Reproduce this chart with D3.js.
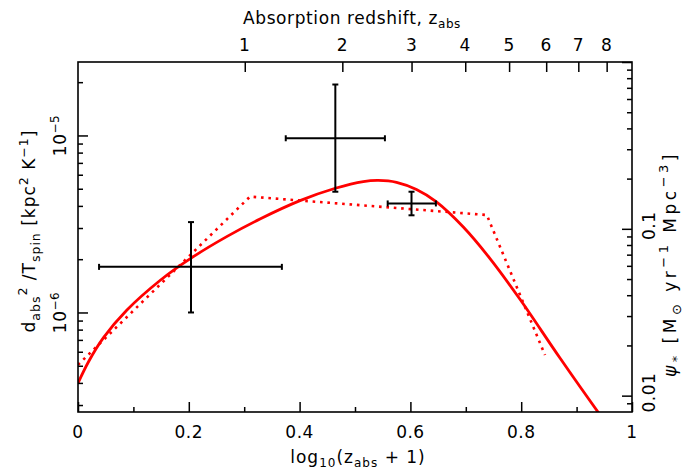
<!DOCTYPE html>
<html><head><meta charset="utf-8">
<script src="https://cdn.jsdelivr.net/npm/d3@7"></script>
<style>
body{margin:0;background:#fff}
text{font-family:"DejaVu Sans",sans-serif;font-size:17px;fill:#000}
</style>
</head><body>
<svg id="chart" width="687" height="473"></svg>
<script>
// ---------- data ----------
const xTickValues = [0, 0.2, 0.4, 0.6, 0.8, 1];
const xTickLabels = ["0", "0.2", "0.4", "0.6", "0.8", "1"];
const xMinorTicks = [0.1, 0.3, 0.5, 0.7, 0.9];
const topZTicks = [1, 2, 3, 4, 5, 6, 7, 8];
const leftMajorTicks = [1e-6, 1e-5];
const leftMajorExp = ["−6", "−5"];
const leftMinorTicks = [3e-7,4e-7,5e-7,6e-7,7e-7,8e-7,9e-7,2e-6,3e-6,4e-6,5e-6,6e-6,7e-6,8e-6,9e-6,2e-5];
const rightMajorTicks = [0.01, 0.1, 1];
const rightMajorLabels = ["0.01", "0.1", ""];
const rightMinorTicks = [0.009,0.02,0.03,0.04,0.05,0.06,0.07,0.08,0.09,0.2,0.3,0.4,0.5,0.6,0.7,0.8,0.9];
const leftDomain = [2.74e-7, 2.60e-5];
const rightDomain = [0.00798, 1.0];

// measurements (log10(1+z), d^2/T)
const measX   = [0.204, 0.4645, 0.602];
const measXlo = [0.038, 0.375, 0.559];
const measXhi = [0.368, 0.554, 0.646];
const measY   = [1.81e-6, 9.64e-6, 4.13e-6];
const measYlo = [1.00e-6, 4.81e-6, 3.54e-6];
const measYhi = [3.24e-6, 1.94e-5, 4.81e-6];

// star-formation density curves (log10(1+z), psi*)
const solidX   = [0, 0.02, 0.0457, 0.0879, 0.148, 0.2034, 0.2684, 0.3285, 0.4007, 0.4644, 0.515, 0.542, 0.575, 0.611, 0.647, 0.6955, 0.7437, 0.7978, 0.870, 0.939, 0.95];
const solidPsi = [0.0119, 0.0162, 0.0222, 0.0325, 0.0490, 0.0665, 0.0898, 0.1145, 0.1475, 0.175, 0.192, 0.195, 0.190, 0.172, 0.145, 0.1025, 0.0663, 0.0378, 0.0168, 0.00795, 0.0071];
const dottedX   = [0, 0.3105, 0.738, 0.843];
const dottedPsi = [0.0153, 0.156, 0.121, 0.0175];

// ---------- layout ----------
const L = 78, R = 632, T = 62, B = 412;
const svg = d3.select("#chart");
const x = d3.scaleLinear().domain([0, 1]).range([L, R]);
const yL = d3.scaleLog().domain(leftDomain).range([B, T]);
const yR = d3.scaleLog().domain(rightDomain).range([B, T]);

svg.append("defs").append("clipPath").attr("id", "clip")
  .append("rect").attr("x", L).attr("y", T).attr("width", R - L).attr("height", B - T);

// curves
const plot = svg.append("g").attr("clip-path", "url(#clip)");
plot.append("path")
  .attr("d", d3.line().x(d => x(d[0])).y(d => yR(d[1])).curve(d3.curveCatmullRom.alpha(0.5))(solidX.map((v, i) => [v, solidPsi[i]])))
  .attr("fill", "none").attr("stroke", "#ff0000").attr("stroke-width", 2.8);
plot.append("path")
  .attr("d", d3.line().x(d => x(d[0])).y(d => yR(d[1]))(dottedX.map((v, i) => [v, dottedPsi[i]])))
  .attr("fill", "none").attr("stroke", "#ff0000").attr("stroke-width", 2.6)
  .attr("stroke-dasharray", "2.6,4.8");

// error bars
const eb = svg.append("g").attr("stroke", "#000").attr("stroke-width", 2).attr("fill", "none");
const cap = 3;
measX.forEach((v, i) => {
  const cx = x(v), cy = yL(measY[i]);
  const x0 = x(measXlo[i]), x1 = x(measXhi[i]);
  const y0 = yL(measYlo[i]), y1 = yL(measYhi[i]);
  eb.append("line").attr("x1", x0).attr("x2", x1).attr("y1", cy).attr("y2", cy);
  eb.append("line").attr("x1", cx).attr("x2", cx).attr("y1", y0).attr("y2", y1);
  eb.append("line").attr("x1", x0).attr("x2", x0).attr("y1", cy - cap).attr("y2", cy + cap);
  eb.append("line").attr("x1", x1).attr("x2", x1).attr("y1", cy - cap).attr("y2", cy + cap);
  eb.append("line").attr("x1", cx - cap).attr("x2", cx + cap).attr("y1", y0).attr("y2", y0);
  eb.append("line").attr("x1", cx - cap).attr("x2", cx + cap).attr("y1", y1).attr("y2", y1);
});

// axes (ticks inward)
const axG = svg.append("g");
axG.append("g").attr("transform", `translate(0,${B})`).call(d3.axisTop(x).tickValues(xTickValues).tickSize(10).tickFormat(""));
axG.append("g").attr("transform", `translate(0,${B})`).call(d3.axisTop(x).tickValues(xMinorTicks).tickSize(5).tickFormat(""));
axG.append("g").attr("transform", `translate(0,${T})`).call(d3.axisBottom(x).tickValues(topZTicks.map(z => Math.log10(z + 1))).tickSize(10).tickFormat(""));
axG.append("g").attr("transform", `translate(${L},0)`).call(d3.axisRight(yL).tickValues(leftMajorTicks).tickSize(10).tickFormat(""));
axG.append("g").attr("transform", `translate(${L},0)`).call(d3.axisRight(yL).tickValues(leftMinorTicks).tickSize(5).tickFormat(""));
axG.append("g").attr("transform", `translate(${R},0)`).call(d3.axisLeft(yR).tickValues(rightMajorTicks).tickSize(10).tickFormat(""));
axG.append("g").attr("transform", `translate(${R},0)`).call(d3.axisLeft(yR).tickValues(rightMinorTicks).tickSize(5).tickFormat(""));
axG.selectAll(".domain").remove();
axG.selectAll(".tick line").attr("stroke", "#000").attr("stroke-width", 1.5);

// frame
svg.append("rect").attr("x", L).attr("y", T).attr("width", R - L).attr("height", B - T)
  .attr("fill", "none").attr("stroke", "#000").attr("stroke-width", 1.6);

// text helpers
const lab = svg.append("g");
function txt(px, py, rot, size, spacing) {
  return lab.append("text")
    .attr("transform", `translate(${px},${py}) rotate(${rot})`)
    .attr("text-anchor", "middle")
    .attr("font-size", size)
    .attr("letter-spacing", spacing);
}
function span(t, s, dy, small) {
  const ts = t.append("tspan").text(s);
  if (dy) ts.attr("dy", dy);
  if (small) ts.attr("font-size", small);
  return ts;
}

// tick labels
xTickValues.forEach((v, i) => txt(x(v), B + 26, 0, 17, 0.5).text(xTickLabels[i]));
topZTicks.forEach(z => txt(x(Math.log10(z + 1)), T - 11, 0, 17, 0.5).text(z));
leftMajorTicks.forEach((v, i) => {
  const t = txt(66, yL(v), -90, 17, 0.5);
  span(t, "10");
  span(t, leftMajorExp[i], -7, 12);
});
rightMajorTicks.forEach((v, i) => {
  if (rightMajorLabels[i]) txt(655, yR(v) - 3, -90, 17, 0.5).text(rightMajorLabels[i]);
});

// axis titles
const bt = txt(358, 463, 0, 17, 1);
span(bt, "log"); span(bt, "10", 4, 12); span(bt, "(z", -4); span(bt, "abs", 4, 12); span(bt, " + 1)", -4);

const tt = txt(352, 24, 0, 17, 0.6);
span(tt, "Absorption redshift, z"); span(tt, "abs", 4, 12);

const lt = txt(35, 231, -90, 18, 1);
span(lt, "d"); span(lt, "abs", 4.5, 12.5); span(lt, "2", -13, 12.5); span(lt, " /T", 8.5);
span(lt, "spin", 4.5, 12.5); span(lt, "  [kpc", -4.5); span(lt, "2", -7.5, 12.5); span(lt, " K", 7.5);
span(lt, "−1", -7.5, 12.5); span(lt, "]", 7.5);

const rt = txt(676, 264, -90, 19, 3.5);
span(rt, "ψ").attr("font-style", "italic"); span(rt, "*", 5, 13); span(rt, "  [M", -5);
span(rt, "⊙", 5, 13); span(rt, " yr", -5); span(rt, "−1", -8, 13); span(rt, "  Mpc", 8);
span(rt, "−3", -8, 13); span(rt, "]", 8);
</script>
</body></html>
